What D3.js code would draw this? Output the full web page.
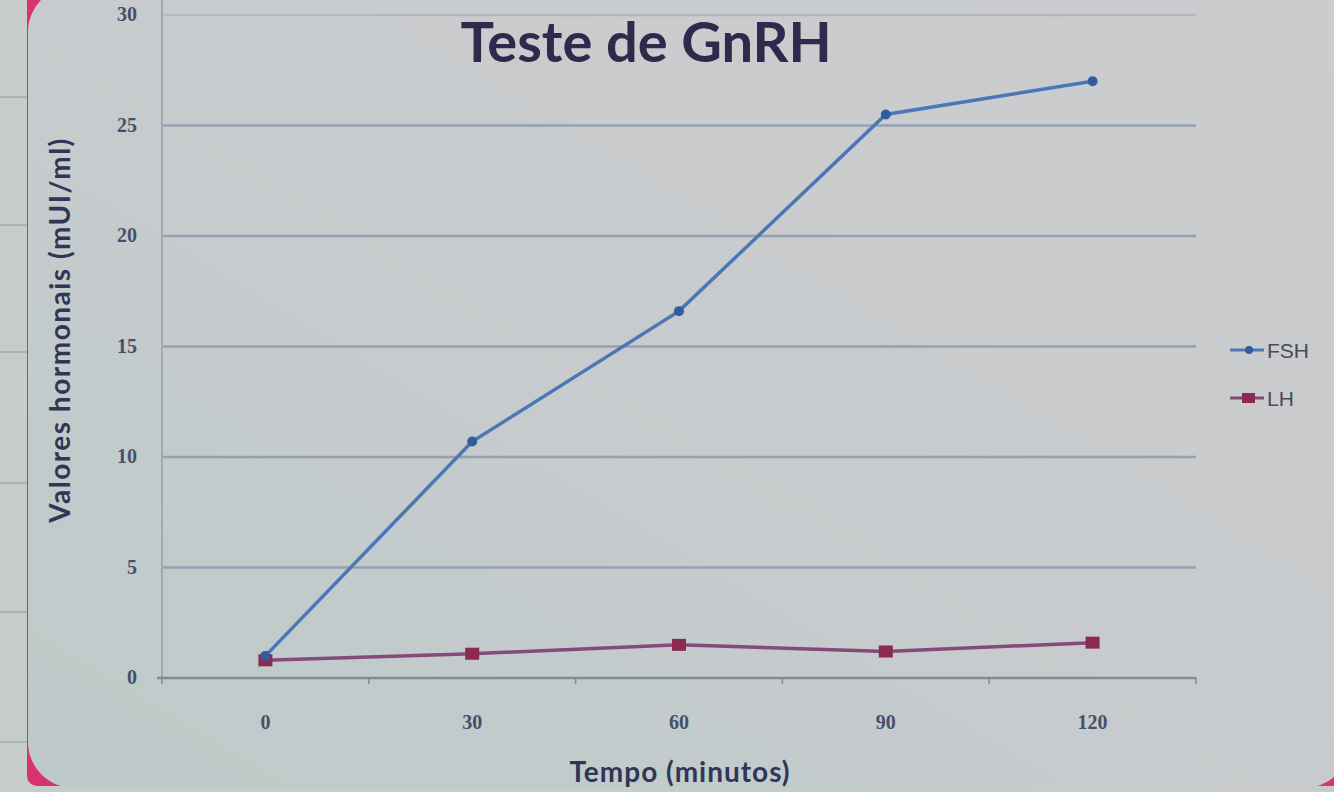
<!DOCTYPE html>
<html><head><meta charset="utf-8">
<script src="https://cdn.jsdelivr.net/npm/d3@7/dist/d3.min.js"></script>
<style>html,body{margin:0;padding:0;background:#c7cbcc;overflow:hidden}</style>
</head><body><svg id="c" width="1334" height="792"></svg>
<script>
const categories = ["0", "30", "60", "90", "120"];
const fshValues = [1.0, 10.7, 16.6, 25.5, 27.0];
const lhValues = [0.8, 1.1, 1.5, 1.2, 1.6];
const yTicks = [0, 5, 10, 15, 20, 25, 30];
const seriesNames = ["FSH", "LH"];

const svg = d3.select("#c");
const W = 1334, H = 792;
const defs = svg.append("defs");
const g1 = defs.append("linearGradient").attr("id","bg").attr("x1","1").attr("y1","0").attr("x2","0").attr("y2","1");
g1.append("stop").attr("offset","0").attr("stop-color","#cccccd");
g1.append("stop").attr("offset","0.5").attr("stop-color","#c8cbcd");
g1.append("stop").attr("offset","1").attr("stop-color","#bdcac9");

// outer left strip (other window)
svg.append("rect").attr("x",0).attr("y",0).attr("width",W).attr("height",H).attr("fill","#c6cdc8");
[97,225,352,483,612,742].forEach(y=>{
  svg.append("line").attr("x1",0).attr("x2",28).attr("y1",y).attr("y2",y).attr("stroke","#abb4af").attr("stroke-width",2);
});
// magenta bezel behind rounded panel
svg.append("rect").attr("x",27).attr("y",-20).attr("width",1330).attr("height",806).attr("rx",10).attr("fill","#d8336f");
svg.append("rect").attr("x",28).attr("y",-14).attr("width",1322).attr("height",802).attr("rx",46).attr("fill","url(#bg)");

const left = 162, right = 1196, y0 = 678, yTop = 15;
const x = d3.scalePoint().domain(categories).range([left, right]).padding(0.5);
const y = d3.scaleLinear().domain([0, 30]).range([y0, yTop]);

// gridlines
svg.append("g").selectAll("line").data(yTicks.filter(d=>d>0)).join("line")
  .attr("x1", left).attr("x2", right).attr("y1", d=>y(d)).attr("y2", d=>y(d))
  .attr("stroke", d=> d===30 ? "#b2b9c2" : "#95a1b0").attr("stroke-width", 2.5);
// y axis line
svg.append("line").attr("x1",left).attr("x2",left).attr("y1",0).attr("y2",y0).attr("stroke","#a0aab5").attr("stroke-width",2);

// x axis
const xAxis = svg.append("g").attr("transform",`translate(0,${y0})`);
xAxis.append("line").attr("x1",left-5).attr("x2",right).attr("y1",0).attr("y2",0).attr("stroke","#7f8b9d").attr("stroke-width",2.5);
const step = x.step();
xAxis.selectAll("line.t").data(d3.range(categories.length+1)).join("line").attr("class","t")
  .attr("x1", i=>left + i*step).attr("x2", i=>left + i*step).attr("y1",0).attr("y2",6)
  .attr("stroke","#7f8b9d").attr("stroke-width",1.5);
xAxis.selectAll("text").data(categories).join("text")
  .attr("x", d=>x(d)).attr("y", 51).attr("text-anchor","middle")
  .attr("font-family","Liberation Serif, serif").attr("font-weight","bold").attr("font-size",20)
  .attr("fill","#46506a").text(d=>d);

// y tick labels
svg.append("g").selectAll("text").data(yTicks).join("text")
  .attr("x", 137).attr("y", d=>y(d)+6).attr("text-anchor","end")
  .attr("font-family","Liberation Serif, serif").attr("font-weight","bold").attr("font-size",20)
  .attr("fill","#46506a").text(d=>d);

// lines
const line = d3.line().x((d,i)=>x(categories[i])).y(d=>y(d));
svg.append("path").datum(lhValues).attr("d",line).attr("fill","none").attr("stroke","#844a78").attr("stroke-width",3.5);
svg.append("path").datum(fshValues).attr("d",line).attr("fill","none").attr("stroke","#4a77b5").attr("stroke-width",3.5);
svg.append("g").selectAll("rect").data(lhValues).join("rect")
  .attr("x",(d,i)=>x(categories[i])-7).attr("y",d=>y(d)-6).attr("width",14).attr("height",12)
  .attr("fill","#8a2a50");
svg.append("g").selectAll("circle").data(fshValues).join("circle")
  .attr("cx",(d,i)=>x(categories[i])).attr("cy",d=>y(d)).attr("r",5).attr("fill","#2f5d9e");

// legend
const leg = svg.append("g");
const legY = [350, 398];
const legColors = ["#4a77b5","#844a78"];
seriesNames.forEach((n,i)=>{
  leg.append("line").attr("x1",1230).attr("x2",1264).attr("y1",legY[i]).attr("y2",legY[i]).attr("stroke",legColors[i]).attr("stroke-width",3);
  if(i===0) leg.append("circle").attr("cx",1249).attr("cy",legY[i]).attr("r",4).attr("fill","#2f5d9e");
  else leg.append("rect").attr("x",1242).attr("y",legY[i]-5).attr("width",13).attr("height",10).attr("fill","#8a2a50");
  leg.append("text").attr("x",1267).attr("y",legY[i]+8).attr("font-family","Liberation Sans Narrow, Liberation Sans, sans-serif")
    .attr("font-size",21).attr("fill","#474c58").text(n);
});

// title
svg.append("text").attr("x",646).attr("y",62).attr("text-anchor","middle")
  .attr("font-family","Lato, sans-serif").attr("font-weight","bold").attr("font-size",56)
  .attr("fill","#2e2a4e").text("Teste de GnRH");
// x axis title
svg.append("text").attr("x",680).attr("y",782).attr("text-anchor","middle")
  .attr("font-family","Lato, sans-serif").attr("font-weight","bold").attr("font-size",28)
  .attr("letter-spacing",1).attr("fill","#2f3656").text("Tempo (minutos)");
// y axis title
svg.append("text").attr("transform","translate(70,330) rotate(-90)").attr("text-anchor","middle")
  .attr("font-family","Lato, sans-serif").attr("font-weight","bold").attr("font-size",28)
  .attr("letter-spacing",1.5).attr("fill","#2f3656").text("Valores hormonais (mUI/ml)");
</script></body></html>
